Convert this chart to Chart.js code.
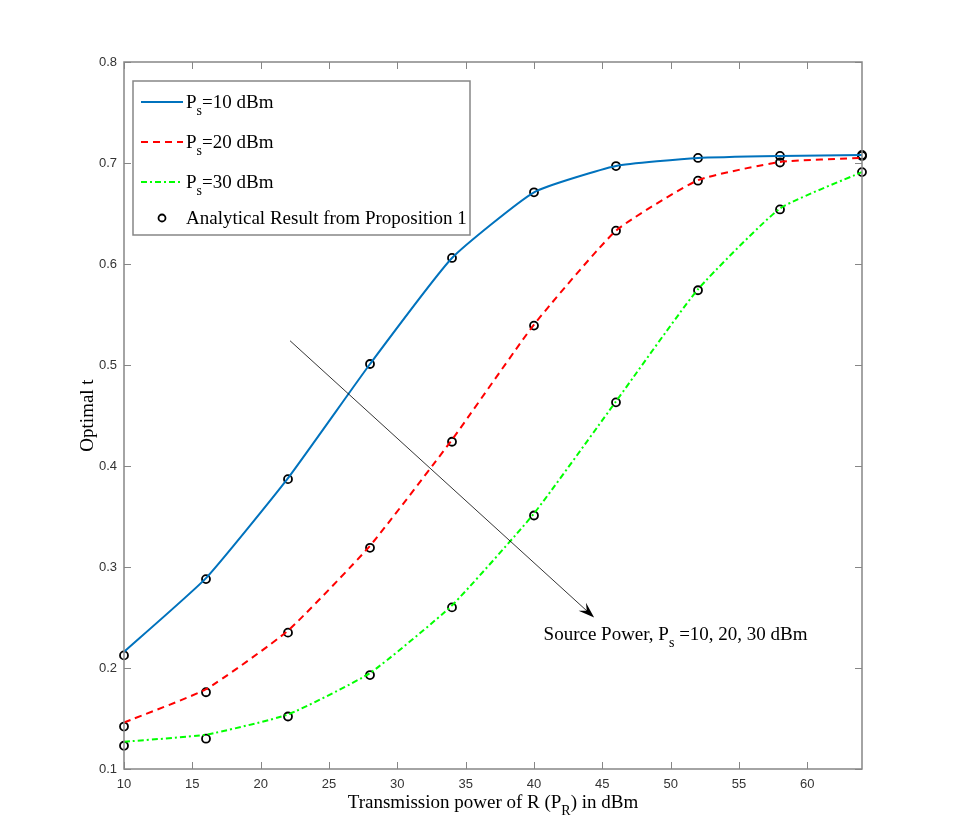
<!DOCTYPE html>
<html>
<head>
<meta charset="utf-8">
<script src="https://cdn.jsdelivr.net/npm/chart.js@4.4.1/dist/chart.umd.min.js"></script>
<style>
  html, body { margin: 0; padding: 0; background: #fff; }
  #wrap { width: 953px; height: 822px; }
</style>
</head>
<body>
<div id="wrap"><canvas id="optChart" width="953" height="822"></canvas></div>
<script>
// transmission power of R, dBm
const powerR = [10, 16, 22, 28, 34, 40, 46, 52, 58, 64];

// simulated curves
const simPs10 = [0.216, 0.289, 0.388, 0.501, 0.606, 0.671, 0.697, 0.705, 0.707, 0.708];
const simPs20 = [0.146, 0.179, 0.237, 0.321, 0.426, 0.540, 0.633, 0.683, 0.701, 0.705];
const simPs30 = [0.127, 0.134, 0.154, 0.195, 0.262, 0.353, 0.464, 0.575, 0.655, 0.691];

// analytical result (circles)
const anaPs10 = [0.2125, 0.288, 0.387, 0.501, 0.606, 0.671, 0.697, 0.705, 0.707, 0.708];
const anaPs20 = [0.142, 0.176, 0.235, 0.319, 0.424, 0.539, 0.633, 0.6825, 0.7005, 0.707];
const anaPs30 = [0.123, 0.130, 0.152, 0.193, 0.260, 0.351, 0.463, 0.574, 0.654, 0.691];

const xTicks = [10, 15, 20, 25, 30, 35, 40, 45, 50, 55, 60];
const yTicks = [0.1, 0.2, 0.3, 0.4, 0.5, 0.6, 0.7, 0.8];

// arrow from / to (data coords) and its note
const arrowFrom = [22.15, 0.524];
const arrowTo = [44.4, 0.250];
const notePos = [40.7, 0.228];

const serif = '"Liberation Serif", "Times New Roman", serif';
const axisGray = '#868686';
const txtSize = 19;

const pts = (ys) => powerR.map((x, i) => ({ x: x, y: ys[i] }));

// draw text made of [text, isSub] pieces, returns end x
function richText(ctx, parts, x, y, size) {
    let cx = x;
    parts.forEach(([t, sub]) => {
        ctx.font = (sub ? Math.round(size * 0.72) : size) + 'px ' + serif;
        ctx.fillText(t, cx, sub ? y + size * 0.36 : y);
        cx += ctx.measureText(t).width;
    });
    return cx;
}
function richWidth(ctx, parts, size) {
    let w = 0;
    parts.forEach(([t, sub]) => {
        ctx.font = (sub ? Math.round(size * 0.72) : size) + 'px ' + serif;
        w += ctx.measureText(t).width;
    });
    return w;
}

const legendRows = [
    { parts: [['P', 0], ['s', 1], ['=10 dBm', 0]], color: '#0072BD', dash: [] },
    { parts: [['P', 0], ['s', 1], ['=20 dBm', 0]], color: '#FF0000', dash: [7, 5] },
    { parts: [['P', 0], ['s', 1], ['=30 dBm', 0]], color: '#00FF00', dash: [6, 3, 2, 3] },
    { parts: [['Analytical Result from Proposition 1', 0]], marker: true }
];

const matlabDecor = {
    id: 'matlabDecor',
    afterDraw(chart) {
        const ctx = chart.ctx;
        const a = chart.chartArea;
        const sx = chart.scales.x, sy = chart.scales.y;
        ctx.save();

        // axes box
        ctx.strokeStyle = axisGray;
        ctx.lineWidth = 1.5;
        ctx.strokeRect(a.left, a.top, a.right - a.left, a.bottom - a.top);

        // inward ticks
        ctx.lineWidth = 1;
        ctx.beginPath();
        xTicks.forEach(v => {
            const px = Math.round(sx.getPixelForValue(v)) + 0.5;
            ctx.moveTo(px, a.bottom); ctx.lineTo(px, a.bottom - 7);
            ctx.moveTo(px, a.top); ctx.lineTo(px, a.top + 7);
        });
        yTicks.forEach(v => {
            const py = Math.round(sy.getPixelForValue(v)) + 0.5;
            ctx.moveTo(a.left, py); ctx.lineTo(a.left + 7, py);
            ctx.moveTo(a.right, py); ctx.lineTo(a.right - 7, py);
        });
        ctx.stroke();

        // arrow
        const x0 = sx.getPixelForValue(arrowFrom[0]), y0 = sy.getPixelForValue(arrowFrom[1]);
        const x1 = sx.getPixelForValue(arrowTo[0]), y1 = sy.getPixelForValue(arrowTo[1]);
        const ang = Math.atan2(y1 - y0, x1 - x0);
        const c = Math.cos(ang), s = Math.sin(ang);
        ctx.strokeStyle = '#000';
        ctx.lineWidth = 0.8;
        ctx.beginPath();
        ctx.moveTo(x0, y0);
        ctx.lineTo(x1 - 8 * c, y1 - 8 * s);
        ctx.stroke();
        ctx.fillStyle = '#000';
        ctx.beginPath();
        ctx.moveTo(x1, y1);
        ctx.lineTo(x1 - 16 * c + 5.5 * s, y1 - 16 * s - 5.5 * c);
        ctx.lineTo(x1 - 10 * c, y1 - 10 * s);
        ctx.lineTo(x1 - 16 * c - 5.5 * s, y1 - 16 * s + 5.5 * c);
        ctx.closePath();
        ctx.fill();

        // note text
        ctx.fillStyle = '#000';
        ctx.textBaseline = 'alphabetic';
        ctx.textAlign = 'left';
        richText(ctx, [['Source Power, P', 0], ['s', 1], [' =10, 20, 30 dBm', 0]],
            sx.getPixelForValue(notePos[0]), sy.getPixelForValue(notePos[1]), txtSize);

        // legend
        const lx = a.left + 9, ly = a.top + 19, lw = 337, lh = 154;
        ctx.fillStyle = '#fff';
        ctx.fillRect(lx, ly, lw, lh);
        ctx.strokeStyle = axisGray;
        ctx.lineWidth = 1.5;
        ctx.strokeRect(lx, ly, lw, lh);
        const rowY = [102, 142, 182, 218].map(v => v - 62 + a.top);
        legendRows.forEach((r, i) => {
            const yy = rowY[i];
            if (r.marker) {
                ctx.strokeStyle = '#000';
                ctx.lineWidth = 1.8;
                ctx.setLineDash([]);
                ctx.beginPath();
                ctx.arc(lx + 29, yy, 3.5, 0, Math.PI * 2);
                ctx.stroke();
            } else {
                ctx.strokeStyle = r.color;
                ctx.lineWidth = 2;
                ctx.setLineDash(r.dash);
                ctx.beginPath();
                ctx.moveTo(lx + 8, yy);
                ctx.lineTo(lx + 50, yy);
                ctx.stroke();
                ctx.setLineDash([]);
            }
            ctx.fillStyle = '#000';
            richText(ctx, r.parts, lx + 53, yy + 6, txtSize);
        });

        // axis titles
        const xt = [['Transmission power of R (P', 0], ['R', 1], [') in dBm', 0]];
        const xw = richWidth(ctx, xt, txtSize);
        richText(ctx, xt, (a.left + a.right) / 2 - xw / 2, a.bottom + 39, txtSize);

        ctx.save();
        ctx.translate(a.left - 31, (a.top + a.bottom) / 2);
        ctx.rotate(-Math.PI / 2);
        ctx.textAlign = 'center';
        ctx.font = txtSize + 'px ' + serif;
        ctx.fillText('Optimal t', 0, 0);
        ctx.restore();

        ctx.restore();
    }
};

const lineSet = (label, ys, color, dash) => ({
    label: label,
    data: pts(ys),
    borderColor: color,
    borderWidth: 2,
    borderDash: dash,
    pointRadius: 0,
    fill: false,
    tension: 0.15
});
const circleSet = (label, ys) => ({
    label: label,
    data: pts(ys),
    showLine: false,
    pointRadius: 4,
    pointBorderWidth: 1.8,
    pointBorderColor: '#000',
    pointBackgroundColor: 'rgba(0,0,0,0)'
});

new Chart(document.getElementById('optChart'), {
    type: 'line',
    data: {
        datasets: [
            lineSet('Ps=10 dBm', simPs10, '#0072BD', []),
            lineSet('Ps=20 dBm', simPs20, '#FF0000', [7, 5]),
            lineSet('Ps=30 dBm', simPs30, '#00FF00', [6, 3, 2, 3]),
            circleSet('Analytical Result from Proposition 1', anaPs10),
            circleSet('Analytical Result (Ps=20)', anaPs20),
            circleSet('Analytical Result (Ps=30)', anaPs30)
        ]
    },
    options: {
        responsive: false,
        animation: false,
        clip: false,
        layout: { padding: { top: 62, right: 91, left: 0, bottom: 0 } },
        plugins: { legend: { display: false }, tooltip: { enabled: false } },
        scales: {
            x: {
                type: 'linear',
                min: 10,
                max: 64,
                grid: { display: false, tickLength: 0 },
                border: { display: false },
                afterBuildTicks: (s) => { s.ticks = xTicks.map(v => ({ value: v })); },
                afterFit: (s) => { s.height = 53; },
                ticks: {
                    padding: 8,
                    maxRotation: 0,
                    color: '#333333',
                    font: { family: '"Liberation Sans", Arial, sans-serif', size: 13 }
                }
            },
            y: {
                type: 'linear',
                min: 0.1,
                max: 0.8,
                grid: { display: false, tickLength: 0 },
                border: { display: false },
                afterBuildTicks: (s) => { s.ticks = yTicks.map(v => ({ value: v })); },
                afterFit: (s) => { s.width = 124; },
                ticks: {
                    padding: 7,
                    color: '#333333',
                    font: { family: '"Liberation Sans", Arial, sans-serif', size: 13 },
                    callback: (v) => v.toFixed(1)
                }
            }
        }
    },
    plugins: [matlabDecor]
});
</script>
</body>
</html>
